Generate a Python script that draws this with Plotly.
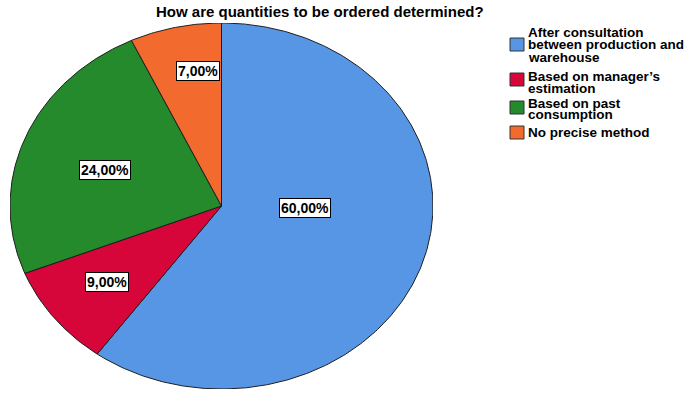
import numpy as np
import plotly.graph_objects as go

# Survey answers and their shares (percent)
categories = [
    "After consultation between production and warehouse",
    "Based on manager\u2019s estimation",
    "Based on past consumption",
    "No precise method",
]
shares = [60.0, 9.0, 24.0, 7.0]
# Legend text broken into lines as displayed
legend_lines = [
    ["After consultation", "between production and", "warehouse"],
    ["Based on manager\u2019s", "estimation"],
    ["Based on past", "consumption"],
    ["No precise method"],
]
colors = ["#5796E5", "#D6053A", "#248A2C", "#F26A2D"]
# Label anchor points inside each slice (unit-circle coordinates)
label_pos = [(0.395, -0.011), (-0.540, -0.415), (-0.551, 0.199), (-0.113, 0.738)]

title = "How are quantities to be ordered determined?"

fig = go.Figure()

# Slices drawn clockwise from 12 o'clock on a unit circle; the axes stretch it
total = sum(shares)
start = 0.0
for name, val, col in zip(categories, shares, colors):
    sweep = 2 * np.pi * val / total
    n = max(int(sweep * 80), 8)
    theta = np.linspace(start, start + sweep, n)
    xs = np.concatenate([[0.0], np.sin(theta), [0.0]])
    ys = np.concatenate([[0.0], np.cos(theta), [0.0]])
    fig.add_trace(go.Scatter(
        x=xs, y=ys, mode="lines", fill="toself", fillcolor=col,
        line=dict(color="#1e1e1e", width=1), name=name,
        hoverinfo="name", showlegend=False,
    ))
    start += sweep

# Percentage labels in white boxes
for val, (lx, ly) in zip(shares, label_pos):
    fig.add_annotation(
        x=lx, y=ly, xref="x", yref="y", showarrow=False,
        text="<b>" + f"{val:.2f}%".replace(".", ",") + "</b>",
        font=dict(family="Liberation Sans, Arial", size=14, color="black"),
        bgcolor="white", bordercolor="black", borderwidth=1, borderpad=1,
    )

# Hand-built legend with tight line spacing
W, H = 699, 394
text_x = 527 / W
sw_x0, sw_x1 = 510 / W, 524 / W
line_tops = [[33, 45, 57], [76, 88], [103, 115], [132]]
swatch_rows = [(38, 51), (73, 86), (101, 114), (126, 139)]
for col, lines, centers, (y0, y1) in zip(colors, legend_lines, line_tops, swatch_rows):
    fig.add_shape(
        type="rect", xref="paper", yref="paper",
        x0=sw_x0, x1=sw_x1, y0=1 - y1 / H, y1=1 - y0 / H,
        fillcolor=col, line=dict(color="#333333", width=1),
    )
    for txt, cy in zip(lines, centers):
        fig.add_annotation(
            x=text_x, y=1 - cy / H, xref="paper", yref="paper",
            xanchor="left", yanchor="middle", showarrow=False, text=f"<b>{txt}</b>",
            borderpad=0,
            font=dict(family="Liberation Sans, Arial", size=13.5, color="black"),
        )

fig.add_annotation(
    x=320 / W, y=1 - 11 / H, xref="paper", yref="paper", showarrow=False,
    xanchor="center", yanchor="middle", text=f"<b>{title}</b>",
    font=dict(family="Liberation Sans, Arial", size=15, color="black"),
)

fig.update_layout(
    width=W, height=H, margin=dict(l=0, r=0, t=0, b=0),
    paper_bgcolor="white", plot_bgcolor="white",
    xaxis=dict(domain=[10 / W, 433 / W], range=[-1, 1], visible=False, fixedrange=True),
    yaxis=dict(domain=[1 - 389 / H, 1 - 23 / H], range=[-1, 1], visible=False, fixedrange=True),
    showlegend=False,
)

fig.write_html("out.html")
